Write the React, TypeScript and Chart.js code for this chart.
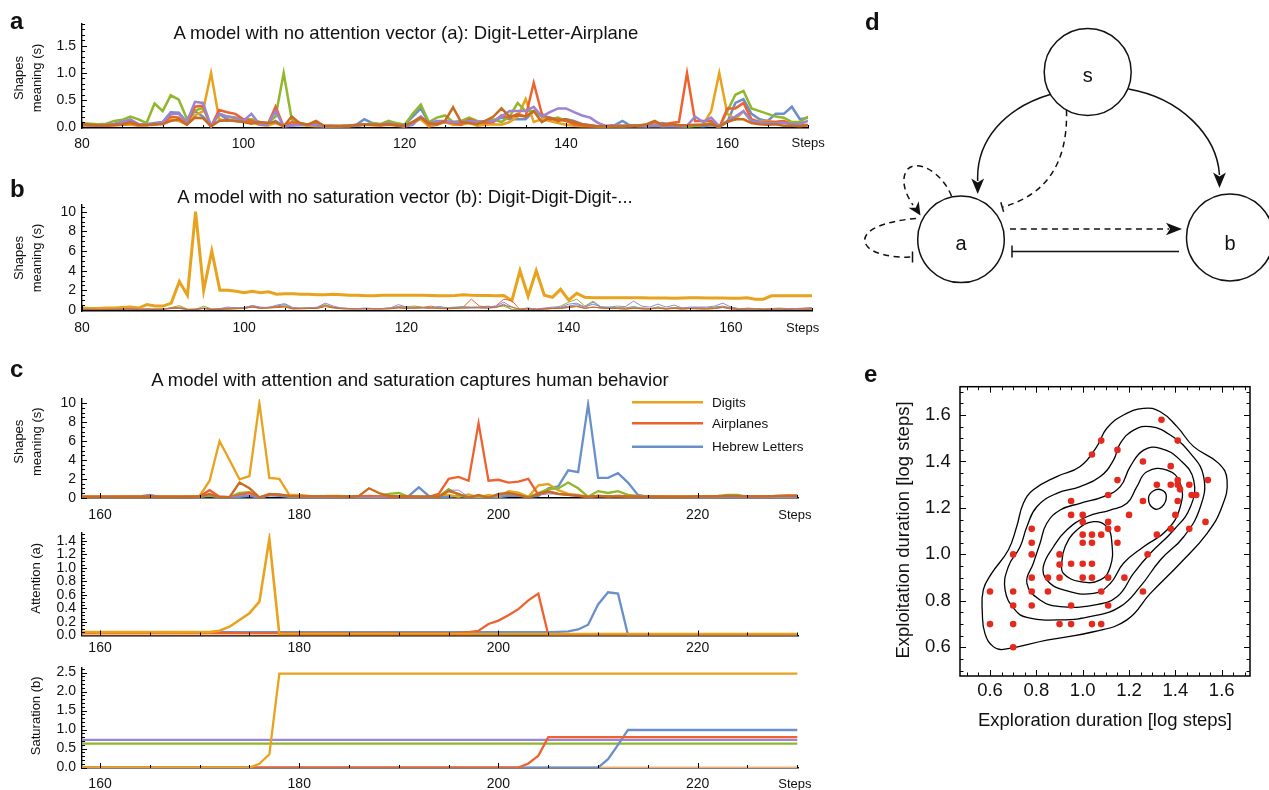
import React, { useEffect, useRef } from 'react';
import { Chart, registerables } from 'chart.js';

Chart.register(...registerables);

const FONT = '"Liberation Sans", Arial, Helvetica, sans-serif';
const BLUE = '#6A8FCB';
const ORANGE = '#E8A21E';
const GREEN = '#90B72D';
const RED = '#EE6230';
const PURPLE = '#9B84D3';
const BROWN = '#C76C20';
const DOT = '#E4291F';

// ---------------- Panel a : steps 80..170 ----------------
const A_START = 80;
const A_BLUE = [
  0.05, 0.04, 0.03, 0.04, 0.06, 0.10, 0.12, 0.05, 0.06, 0.08,
  0.10, 0.28, 0.27, 0.10, 0.30, 0.20, 0.02, 0.25, 0.15, 0.12,
  0.10, 0.15, 0.08, 0.05, 0.12, 0.02, 0.05, 0.04, 0.06, 0.05,
  0.03, 0.02, 0.03, 0.02, 0.05, 0.15, 0.08, 0.06, 0.10, 0.05,
  0.05, 0.20, 0.35, 0.08, 0.10, 0.10, 0.08, 0.06, 0.10, 0.08,
  0.12, 0.12, 0.18, 0.15, 0.15, 0.15, 0.30, 0.22, 0.18, 0.15,
  0.15, 0.12, 0.06, 0.04, 0.02, 0.02, 0.04, 0.12, 0.03, 0.03,
  0.03, 0.05, 0.08, 0.05, 0.03, 0.02, 0.03, 0.02, 0.04, 0.02,
  0.10, 0.45, 0.52, 0.25, 0.15, 0.12, 0.25, 0.25, 0.38, 0.15, 0.18,
];
const A_ORANGE = [
  0.03, 0.03, 0.04, 0.03, 0.04, 0.05, 0.05, 0.03, 0.04, 0.05,
  0.08, 0.15, 0.12, 0.05, 0.22, 0.30, 1.00, 0.15, 0.12, 0.15,
  0.12, 0.10, 0.05, 0.03, 0.08, 0.02, 0.10, 0.05, 0.03, 0.02,
  0.02, 0.02, 0.03, 0.02, 0.03, 0.05, 0.04, 0.03, 0.05, 0.03,
  0.02, 0.10, 0.15, 0.02, 0.05, 0.10, 0.05, 0.05, 0.08, 0.03,
  0.05, 0.06, 0.05, 0.10, 0.20, 0.52, 0.10, 0.15, 0.12, 0.08,
  0.05, 0.03, 0.02, 0.02, 0.02, 0.02, 0.02, 0.02, 0.03, 0.02,
  0.02, 0.03, 0.02, 0.03, 0.02, 0.02, 0.03, 0.05, 0.30, 1.00,
  0.25, 0.15, 0.30, 0.10, 0.12, 0.12, 0.10, 0.12, 0.05, 0.03, 0.05,
];
const A_GREEN = [
  0.08, 0.07, 0.06, 0.07, 0.12, 0.14, 0.20, 0.15, 0.08, 0.44,
  0.30, 0.59, 0.51, 0.16, 0.31, 0.36, 0.02, 0.25, 0.20, 0.18,
  0.15, 0.15, 0.10, 0.08, 0.20, 1.00, 0.15, 0.08, 0.05, 0.07,
  0.02, 0.02, 0.02, 0.03, 0.04, 0.05, 0.08, 0.06, 0.12, 0.08,
  0.05, 0.25, 0.42, 0.10, 0.18, 0.22, 0.10, 0.12, 0.18, 0.12,
  0.10, 0.15, 0.10, 0.20, 0.45, 0.30, 0.30, 0.20, 0.15, 0.18,
  0.12, 0.08, 0.05, 0.03, 0.02, 0.02, 0.03, 0.02, 0.03, 0.04,
  0.03, 0.04, 0.03, 0.03, 0.03, 0.02, 0.03, 0.05, 0.08, 0.00,
  0.30, 0.60, 0.67, 0.35, 0.30, 0.25, 0.20, 0.18, 0.10, 0.10, 0.20,
];
const A_RED = [
  0.06, 0.04, 0.03, 0.03, 0.04, 0.05, 0.08, 0.04, 0.05, 0.05,
  0.08, 0.20, 0.18, 0.06, 0.38, 0.40, 0.02, 0.32, 0.28, 0.25,
  0.15, 0.12, 0.06, 0.05, 0.38, 0.02, 0.10, 0.06, 0.05, 0.10,
  0.02, 0.02, 0.02, 0.03, 0.04, 0.05, 0.05, 0.04, 0.06, 0.05,
  0.03, 0.10, 0.20, 0.05, 0.08, 0.10, 0.08, 0.05, 0.15, 0.10,
  0.08, 0.10, 0.22, 0.18, 0.25, 0.20, 0.82, 0.25, 0.15, 0.15,
  0.12, 0.06, 0.04, 0.02, 0.02, 0.02, 0.03, 0.03, 0.03, 0.04,
  0.05, 0.10, 0.05, 0.08, 0.10, 1.00, 0.12, 0.12, 0.12, 0.00,
  0.35, 0.35, 0.45, 0.15, 0.10, 0.10, 0.10, 0.12, 0.05, 0.05, 0.04,
];
const A_PURPLE = [
  0.05, 0.04, 0.04, 0.05, 0.07, 0.10, 0.15, 0.06, 0.05, 0.07,
  0.10, 0.25, 0.25, 0.10, 0.47, 0.45, 0.02, 0.25, 0.20, 0.18,
  0.12, 0.25, 0.06, 0.05, 0.30, 0.02, 0.03, 0.05, 0.06, 0.04,
  0.02, 0.03, 0.02, 0.03, 0.03, 0.06, 0.05, 0.05, 0.08, 0.04,
  0.02, 0.05, 0.20, 0.08, 0.12, 0.12, 0.10, 0.10, 0.12, 0.10,
  0.12, 0.12, 0.20, 0.30, 0.30, 0.30, 0.38, 0.20, 0.28, 0.35,
  0.35, 0.28, 0.22, 0.18, 0.08, 0.03, 0.04, 0.03, 0.02, 0.03,
  0.02, 0.03, 0.02, 0.02, 0.02, 0.03, 0.20, 0.10, 0.18, 0.02,
  0.12, 0.20, 0.30, 0.12, 0.10, 0.08, 0.08, 0.08, 0.06, 0.07, 0.12,
];
const A_BROWN = [
  0.06, 0.05, 0.04, 0.04, 0.05, 0.06, 0.10, 0.05, 0.04, 0.06,
  0.06, 0.12, 0.15, 0.05, 0.18, 0.17, 0.02, 0.12, 0.13, 0.12,
  0.10, 0.07, 0.10, 0.08, 0.10, 0.02, 0.20, 0.08, 0.05, 0.12,
  0.03, 0.03, 0.02, 0.03, 0.05, 0.06, 0.05, 0.05, 0.06, 0.04,
  0.03, 0.10, 0.18, 0.08, 0.05, 0.12, 0.37, 0.10, 0.08, 0.06,
  0.12, 0.20, 0.35, 0.20, 0.22, 0.20, 0.30, 0.10, 0.18, 0.12,
  0.15, 0.10, 0.06, 0.04, 0.02, 0.02, 0.02, 0.02, 0.03, 0.03,
  0.06, 0.12, 0.04, 0.06, 0.04, 0.04, 0.05, 0.05, 0.06, 0.01,
  0.10, 0.15, 0.15, 0.08, 0.06, 0.05, 0.06, 0.03, 0.03, 0.02, 0.04,
];

// ---------------- Panel b : steps 80..170 ----------------
const B_START = 80;
const B_ORANGE = [
  0.20, 0.15, 0.15, 0.20, 0.20, 0.25, 0.30, 0.20, 0.55, 0.40,
  0.40, 0.70, 2.90, 1.50, 10.0, 2.00, 6.00, 2.00, 2.00, 1.90,
  1.75, 1.90, 1.75, 1.85, 1.60, 1.65, 1.65, 1.60, 1.60, 1.55,
  1.55, 1.60, 1.55, 1.50, 1.50, 1.45, 1.45, 1.50, 1.50, 1.50,
  1.50, 1.50, 1.50, 1.48, 1.45, 1.45, 1.48, 1.55, 1.50, 1.48,
  1.48, 1.45, 1.48, 0.95, 4.00, 1.40, 4.00, 1.50, 1.30, 2.10,
  1.00, 1.70, 1.30, 1.25, 1.25, 1.25, 1.25, 1.25, 1.25, 1.25,
  1.22, 1.22, 1.22, 1.20, 1.22, 1.25, 1.25, 1.22, 1.22, 1.22,
  1.20, 1.20, 1.25, 1.10, 1.10, 1.45, 1.45, 1.45, 1.45, 1.45, 1.45,
];
const B_BLUE = [
  0.10, 0.08, 0.06, 0.06, 0.08, 0.10, 0.12, 0.08, 0.10, 0.08,
  0.10, 0.20, 0.15, 0.05, 0.10, 0.15, 0.05, 0.10, 0.20, 0.25,
  0.20, 0.30, 0.20, 0.25, 0.40, 0.55, 0.20, 0.15, 0.20, 0.25,
  0.50, 0.30, 0.20, 0.15, 0.15, 0.20, 0.15, 0.15, 0.20, 0.35,
  0.25, 0.20, 0.25, 0.20, 0.35, 0.20, 0.25, 0.20, 0.20, 0.25,
  0.20, 0.30, 0.60, 0.05, 0.10, 0.20, 0.10, 0.15, 0.20, 0.25,
  0.40, 0.55, 0.30, 0.60, 0.30, 0.25, 0.25, 0.20, 0.35, 0.20,
  0.15, 0.30, 0.15, 0.25, 0.20, 0.20, 0.25, 0.20, 0.30, 0.40,
  0.20, 0.10, 0.15, 0.15, 0.10, 0.10, 0.15, 0.10, 0.15, 0.15, 0.20,
];
const B_GREEN = [
  0.08, 0.06, 0.05, 0.06, 0.08, 0.10, 0.08, 0.06, 0.08, 0.10,
  0.10, 0.25, 0.45, 0.10, 0.05, 0.40, 0.10, 0.10, 0.15, 0.20,
  0.25, 0.45, 0.25, 0.20, 0.30, 0.45, 0.20, 0.20, 0.25, 0.25,
  0.55, 0.25, 0.20, 0.15, 0.15, 0.15, 0.15, 0.15, 0.20, 0.30,
  0.35, 0.40, 0.30, 0.25, 0.30, 0.25, 0.30, 0.35, 0.25, 0.30,
  0.40, 0.30, 0.40, 0.05, 0.10, 0.20, 0.05, 0.10, 0.20, 0.40,
  0.80, 1.10, 0.40, 0.90, 0.30, 0.20, 0.25, 0.20, 0.25, 0.20,
  0.15, 0.30, 0.15, 0.25, 0.20, 0.20, 0.25, 0.20, 0.25, 0.25,
  0.30, 0.15, 0.15, 0.15, 0.10, 0.15, 0.20, 0.15, 0.15, 0.10, 0.15,
];
const B_RED = [
  0.05, 0.05, 0.04, 0.05, 0.05, 0.06, 0.08, 0.05, 0.06, 0.06,
  0.08, 0.20, 0.30, 0.05, 0.05, 0.15, 0.05, 0.08, 0.10, 0.15,
  0.20, 0.40, 0.20, 0.30, 0.35, 0.35, 0.15, 0.15, 0.20, 0.20,
  0.45, 0.25, 0.15, 0.12, 0.12, 0.15, 0.12, 0.12, 0.15, 0.25,
  0.20, 0.30, 0.25, 0.40, 0.20, 0.15, 0.20, 0.30, 1.10, 0.40,
  0.30, 0.40, 1.10, 0.95, 0.05, 0.15, 0.05, 0.10, 0.15, 0.20,
  0.30, 0.40, 0.20, 0.30, 0.20, 0.15, 0.15, 0.10, 0.15, 0.15,
  0.10, 0.20, 0.10, 0.20, 0.10, 0.15, 0.15, 0.10, 0.15, 0.30,
  0.15, 0.05, 0.10, 0.10, 0.05, 0.10, 0.10, 0.08, 0.10, 0.10, 0.10,
];
const B_PURPLE = [
  0.10, 0.08, 0.08, 0.08, 0.10, 0.12, 0.15, 0.10, 0.12, 0.10,
  0.10, 0.15, 0.20, 0.05, 0.10, 0.20, 0.10, 0.15, 0.30, 0.20,
  0.25, 0.45, 0.30, 0.25, 0.50, 0.65, 0.25, 0.20, 0.20, 0.30,
  0.70, 0.40, 0.20, 0.15, 0.15, 0.15, 0.15, 0.15, 0.20, 0.55,
  0.30, 0.20, 0.25, 0.20, 0.30, 0.20, 0.25, 0.30, 0.30, 0.30,
  0.30, 0.40, 0.80, 0.30, 0.05, 0.15, 0.10, 0.20, 0.30, 0.30,
  0.60, 0.70, 0.30, 0.80, 0.30, 0.30, 0.40, 0.35, 0.90, 0.40,
  0.30, 0.60, 0.30, 0.50, 0.20, 0.30, 0.30, 0.30, 0.40, 0.70,
  0.30, 0.10, 0.20, 0.15, 0.10, 0.15, 0.10, 0.15, 0.15, 0.20, 0.25,
];
const B_BROWN = [
  0.06, 0.05, 0.05, 0.05, 0.06, 0.08, 0.08, 0.06, 0.06, 0.06,
  0.08, 0.15, 0.20, 0.05, 0.05, 0.20, 0.05, 0.08, 0.10, 0.12,
  0.15, 0.30, 0.15, 0.20, 0.25, 0.30, 0.10, 0.12, 0.15, 0.15,
  0.35, 0.20, 0.12, 0.10, 0.10, 0.10, 0.10, 0.10, 0.12, 0.20,
  0.15, 0.20, 0.20, 0.20, 0.15, 0.12, 0.15, 0.20, 0.25, 0.20,
  0.20, 0.25, 0.50, 0.30, 0.05, 0.10, 0.05, 0.10, 0.15, 0.15,
  0.25, 0.35, 0.15, 0.30, 0.20, 0.15, 0.15, 0.10, 0.20, 0.10,
  0.10, 0.20, 0.10, 0.15, 0.10, 0.15, 0.10, 0.10, 0.15, 0.25,
  0.10, 0.05, 0.08, 0.08, 0.05, 0.08, 0.08, 0.06, 0.08, 0.08, 0.10,
];

// ---------------- Panel c (top) : steps 158..230 ----------------
const C_START = 158;
const C_BLUE = [
  0.05, 0.05, 0.05, 0.08, 0.10, 0.10, 0.15, 0.30, 0.10, 0.08,
  0.08, 0.10, 0.10, 0.30, 0.10, 0.05, 0.10, 0.20, 0.00, 0.30,
  0.20, 0.10, 0.08, 0.05, 0.05, 0.05, 0.08, 0.05, 0.05, 0.05,
  0.10, 0.10, 0.15, 0.20, 1.10, 0.20, 0.10, 0.10, 0.20, 0.05,
  0.10, 0.10, 0.05, 0.20, 0.20, 0.10, 0.20, 1.00, 1.20, 2.90,
  2.70, 9.90, 2.10, 2.10, 2.60, 1.60, 0.30, 0.10, 0.10, 0.05,
  0.05, 0.05, 0.05, 0.05, 0.10, 0.10, 0.10, 0.10, 0.10, 0.10,
  0.10, 0.10, 0.10,
];
const C_ORANGE = [
  0.10, 0.10, 0.10, 0.10, 0.10, 0.10, 0.10, 0.10, 0.10, 0.10,
  0.10, 0.15, 0.20, 1.80, 6.00, 4.00, 1.95, 2.30, 10.0, 2.10,
  2.00, 0.30, 0.30, 0.20, 0.15, 0.20, 0.20, 0.10, 0.15, 0.10,
  0.10, 0.15, 0.10, 0.10, 0.00, 0.10, 0.30, 0.30, 0.10, 0.35,
  0.05, 0.30, 0.10, 0.70, 0.55, 0.10, 1.30, 1.45, 0.80, 0.40,
  0.30, 0.10, 0.20, 0.15, 0.20, 0.15, 0.15, 0.15, 0.10, 0.10,
  0.10, 0.10, 0.10, 0.15, 0.15, 0.20, 0.20, 0.10, 0.10, 0.15,
  0.10, 0.15, 0.15,
];
const C_GREEN = [
  0.05, 0.05, 0.05, 0.05, 0.05, 0.05, 0.05, 0.05, 0.05, 0.05,
  0.05, 0.05, 0.10, 0.20, 0.05, 0.05, 0.50, 0.60, 0.00, 0.30,
  0.30, 0.15, 0.10, 0.10, 0.10, 0.10, 0.10, 0.10, 0.10, 0.10,
  0.20, 0.40, 0.50, 0.10, 0.10, 0.00, 0.10, 0.90, 0.30, 0.10,
  0.20, 0.05, 0.30, 0.40, 0.30, 0.05, 0.50, 0.90, 1.00, 1.60,
  1.00, 0.10, 0.70, 0.50, 0.70, 0.30, 0.20, 0.15, 0.10, 0.10,
  0.10, 0.10, 0.10, 0.15, 0.20, 0.30, 0.30, 0.10, 0.10, 0.10,
  0.15, 0.15, 0.15,
];
const C_RED = [
  0.10, 0.10, 0.10, 0.10, 0.10, 0.10, 0.10, 0.15, 0.10, 0.10,
  0.10, 0.10, 0.15, 0.80, 0.10, 0.05, 0.30, 0.50, 0.00, 0.30,
  0.30, 0.20, 0.15, 0.15, 0.15, 0.15, 0.15, 0.15, 0.15, 0.20,
  0.15, 0.10, 0.10, 0.10, 0.05, 0.10, 0.40, 2.00, 2.20, 1.80,
  7.90, 1.80, 1.90, 1.60, 1.70, 2.00, 0.30, 0.60, 0.40, 0.30,
  0.20, 0.10, 0.20, 0.15, 0.20, 0.15, 0.15, 0.10, 0.10, 0.10,
  0.10, 0.10, 0.10, 0.15, 0.15, 0.20, 0.15, 0.15, 0.10, 0.15,
  0.20, 0.25, 0.25,
];
const C_PURPLE = [
  0.05, 0.05, 0.05, 0.05, 0.05, 0.05, 0.05, 0.10, 0.05, 0.05,
  0.05, 0.05, 0.10, 0.20, 0.05, 0.05, 0.20, 0.30, 0.00, 0.20,
  0.20, 0.10, 0.05, 0.05, 0.05, 0.05, 0.05, 0.05, 0.05, 0.05,
  0.10, 0.10, 0.15, 0.10, 0.10, 0.05, 0.10, 0.80, 0.80, 0.10,
  0.20, 0.05, 0.20, 0.30, 0.20, 0.05, 0.30, 0.40, 0.40, 0.30,
  0.30, 0.05, 0.20, 0.20, 0.20, 0.10, 0.10, 0.05, 0.05, 0.05,
  0.05, 0.05, 0.05, 0.05, 0.05, 0.10, 0.10, 0.05, 0.05, 0.05,
  0.05, 0.05, 0.05,
];
const C_BROWN = [
  0.10, 0.10, 0.10, 0.10, 0.10, 0.10, 0.10, 0.10, 0.10, 0.10,
  0.10, 0.10, 0.15, 0.40, 0.05, 0.05, 1.60, 1.00, 0.05, 0.40,
  0.35, 0.20, 0.15, 0.15, 0.15, 0.15, 0.15, 0.10, 0.20, 1.00,
  0.50, 0.20, 0.15, 0.15, 0.15, 0.15, 0.10, 0.70, 0.40, 0.00,
  0.30, 0.00, 0.40, 0.50, 0.30, 0.00, 0.40, 0.70, 0.40, 0.30,
  0.20, 0.10, 0.20, 0.15, 0.15, 0.10, 0.10, 0.10, 0.10, 0.10,
  0.10, 0.10, 0.15, 0.15, 0.15, 0.20, 0.20, 0.15, 0.15, 0.15,
  0.20, 0.20, 0.20,
];

// ---------------- Panel c (attention) ----------------
const ATT_ORANGE_STEPS = [158, 171, 172, 173, 174, 175, 176, 177, 178, 230];
const ATT_ORANGE = [0.05, 0.05, 0.07, 0.13, 0.23, 0.33, 0.50, 1.43, 0.02, 0.02];
const ATT_RED_STEPS = [158, 196, 197, 198, 199, 200, 201, 202, 203, 204, 205, 230];
const ATT_RED = [0.035, 0.04, 0.05, 0.07, 0.17, 0.22, 0.30, 0.39, 0.52, 0.62, 0.01, 0.01];
const ATT_BLUE_STEPS = [158, 205, 206, 207, 208, 209, 210, 211, 212, 213, 230];
const ATT_BLUE = [0.05, 0.05, 0.055, 0.06, 0.09, 0.16, 0.46, 0.64, 0.62, 0.01, 0.01];
const ATT_BROWN_STEPS = [158, 230];
const ATT_BROWN = [0.0, 0.0];

// ---------------- Panel c (saturation) ----------------
const SAT_ORANGE_STEPS = [158, 175, 176, 177, 178, 230];
const SAT_ORANGE = [0, 0, 0.10, 0.35, 2.47, 2.47];
const SAT_PURPLE_STEPS = [158, 230];
const SAT_PURPLE = [0.73, 0.73];
const SAT_GREEN_STEPS = [158, 230];
const SAT_GREEN = [0.63, 0.63];
const SAT_RED_STEPS = [158, 202, 203, 204, 205, 230];
const SAT_RED = [0, 0, 0.11, 0.31, 0.80, 0.80];
const SAT_BLUE_STEPS = [158, 210, 211, 212, 213, 230];
const SAT_BLUE = [0, 0, 0.22, 0.60, 0.99, 0.99];
const SAT_BROWN_STEPS = [158, 230];
const SAT_BROWN = [0, 0];

// ---------------- Panel e ----------------
const E_X = [0.6, 0.6, 0.7, 0.7, 0.7, 0.7, 0.7, 0.78, 0.78, 0.78, 0.78, 0.78, 0.78, 0.85, 0.85, 0.9, 0.9, 0.9, 0.9,
  0.95, 0.95, 0.95, 0.95, 0.95, 1.0, 1.0, 1.0, 1.0, 1.0, 1.0, 1.04, 1.04, 1.04, 1.04, 1.04, 1.04, 1.08, 1.08, 1.08, 1.08,
  1.11, 1.11, 1.11, 1.11, 1.11, 1.15, 1.15, 1.15, 1.15, 1.18, 1.2, 1.26, 1.26, 1.26, 1.28, 1.32, 1.32, 1.34, 1.38, 1.38,
  1.38, 1.40, 1.41, 1.41, 1.41, 1.41, 1.42, 1.46, 1.46, 1.47, 1.49, 1.54, 1.53];
const E_Y = [0.84, 0.70, 1.0, 0.84, 0.78, 0.70, 0.60, 1.11, 1.05, 1.0, 0.90, 0.84, 0.78, 0.90, 0.84, 1.0, 0.956, 0.90, 0.70,
  1.23, 1.17, 0.96, 0.78, 0.70, 1.17, 1.14, 1.085, 1.05, 0.96, 0.90, 1.43, 1.085, 1.05, 0.96, 0.90, 0.70, 1.49, 1.085, 0.84, 0.70,
  1.14, 1.256, 1.11, 0.90, 0.78, 1.45, 1.32, 1.11, 1.05, 0.90, 1.17, 1.40, 1.23, 0.84, 1.0, 1.30, 1.085, 1.58, 1.38, 1.30,
  1.11, 1.17, 1.49, 1.32, 1.30, 1.23, 1.28, 1.30, 1.11, 1.256, 1.256, 1.32, 1.14];

const C1_X = [0.614, 0.658, 0.845, 1.047, 1.191, 1.292, 1.421, 1.537, 1.601, 1.623, 1.587, 1.479, 1.407, 1.335, 1.263, 1.176, 1.104, 1.061, 0.989, 0.888, 0.787, 0.744, 0.715, 0.679, 0.607, 0.571, 0.567, 0.578];
const C1_Y = [0.603, 0.591, 0.631, 0.667, 0.718, 0.832, 0.962, 1.091, 1.205, 1.320, 1.392, 1.464, 1.550, 1.614, 1.629, 1.600, 1.543, 1.464, 1.378, 1.335, 1.278, 1.220, 1.119, 1.019, 0.918, 0.847, 0.746, 0.660];
const C2_X = [0.708, 0.759, 0.903, 1.047, 1.162, 1.248, 1.335, 1.436, 1.508, 1.522, 1.465, 1.378, 1.292, 1.220, 1.162, 1.133, 1.076, 0.989, 0.888, 0.802, 0.759, 0.730, 0.679, 0.665];
const C2_Y = [0.761, 0.729, 0.718, 0.735, 0.775, 0.861, 0.976, 1.076, 1.205, 1.335, 1.435, 1.514, 1.550, 1.535, 1.478, 1.406, 1.335, 1.292, 1.263, 1.205, 1.119, 1.033, 0.947, 0.847];
const C3_X = [0.816, 0.903, 1.047, 1.148, 1.220, 1.292, 1.393, 1.465, 1.479, 1.421, 1.335, 1.263, 1.205, 1.162, 1.090, 0.989, 0.903, 0.845, 0.816, 0.787, 0.759];
const C3_Y = [0.804, 0.775, 0.782, 0.818, 0.919, 1.005, 1.105, 1.205, 1.320, 1.406, 1.457, 1.449, 1.378, 1.292, 1.249, 1.220, 1.191, 1.134, 1.048, 0.962, 0.876];
const C4_X = [0.845, 0.917, 1.047, 1.119, 1.176, 1.263, 1.364, 1.421, 1.421, 1.364, 1.277, 1.234, 1.191, 1.119, 1.018, 0.931, 0.874, 0.830];
const C4_Y = [0.890, 0.847, 0.832, 0.875, 0.962, 1.033, 1.105, 1.205, 1.306, 1.363, 1.356, 1.292, 1.220, 1.191, 1.162, 1.105, 1.033, 0.947];
const C5_X = [0.917, 0.989, 1.076, 1.119, 1.126, 1.104, 1.047, 0.975, 0.924, 0.910];
const C5_Y = [0.918, 0.883, 0.890, 0.947, 1.048, 1.119, 1.141, 1.105, 1.033, 0.962];
const C6_X = [1.284, 1.306, 1.342, 1.361, 1.342, 1.306];
const C6_Y = [1.241, 1.198, 1.205, 1.249, 1.277, 1.274];

// ---------------- Tick labels ----------------
const A_X_TICKS = [80, 100, 120, 140, 160];
const A_Y_TICKS = [0, 0.5, 1.0, 1.5];
const B_Y_TICKS = [0, 2, 4, 6, 8, 10];
const C_X_TICKS = [160, 180, 200, 220];
const C_Y_TICKS = [0, 2, 4, 6, 8, 10];
const ATT_Y_TICKS = [0, 0.2, 0.4, 0.6, 0.8, 1.0, 1.2, 1.4];
const SAT_Y_TICKS = [0, 0.5, 1.0, 1.5, 2.0, 2.5];
const E_TICKS = [0.6, 0.8, 1.0, 1.2, 1.4, 1.6];

// ---------------- helpers ----------------
function rng(a: number, b: number, step: number) {
  const out: number[] = [];
  const n = Math.round((b - a) / step);
  for (let i = 0; i <= n; i++) out.push(+(a + i * step).toFixed(4));
  return out;
}
const seq = (start: number, vals: number[]) => vals.map((y, i) => ({ x: start + i, y }));
const pairs = (xs: number[], ys: number[]) => xs.map((x, i) => ({ x, y: ys[i] }));

const innerTicks = {
  id: 'innerTicks',
  afterDatasetsUpdate(chart: any) {
    chart.data.datasets.forEach((ds: any, i: number) => {
      if (ds.closed) {
        const m = chart.getDatasetMeta(i);
        if (m && m.dataset) { m.dataset._loop = true; m.dataset._fullLoop = true; }
      }
    });
  },
  afterDraw(chart: any, _a: any, o: any) {
    if (!o || !o.x) return;
    const { ctx, chartArea: ca, scales } = chart;
    ctx.save();
    ctx.strokeStyle = '#000';
    ctx.lineWidth = 1;
    const line = (x1: number, y1: number, x2: number, y2: number) => {
      ctx.beginPath(); ctx.moveTo(x1, y1); ctx.lineTo(x2, y2); ctx.stroke();
    };
    const xt = (vals: number[], len: number) => vals.forEach((v) => {
      const p = Math.round(scales.x.getPixelForValue(v)) + 0.5;
      if (p < ca.left - 0.6 || p > ca.right + 0.6) return;
      line(p, ca.bottom, p, ca.bottom - len);
      if (o.frame) line(p, ca.top, p, ca.top + len);
    });
    const yt = (vals: number[], len: number) => vals.forEach((v) => {
      const p = Math.round(scales.y.getPixelForValue(v)) + 0.5;
      if (p < ca.top - 0.6 || p > ca.bottom + 0.6) return;
      line(ca.left, p, ca.left + len, p);
      if (o.frame) line(ca.right, p, ca.right - len, p);
    });
    xt(o.x.minor, o.minorLen); xt(o.x.major, o.majorLen);
    yt(o.y.minor, o.minorLen); yt(o.y.major, o.majorLen);
    if (o.frame) {
      ctx.lineWidth = 1.5;
      ctx.strokeRect(ca.left, ca.top, ca.right - ca.left, ca.bottom - ca.top);
    }
    ctx.restore();
  },
};
Chart.register(innerTicks as any);

function axis(o: { min: number; max: number; major: number[]; dec: number; size: number; pad: number; fitW?: number; fitH?: number; border: boolean }) {
  return {
    type: 'linear',
    min: o.min,
    max: o.max,
    afterBuildTicks: (s: any) => { s.ticks = o.major.map((v) => ({ value: v })); },
    afterFit: (s: any) => {
      if (o.fitW != null) s.width = o.fitW;
      if (o.fitH != null) s.height = o.fitH;
    },
    grid: { display: false, drawTicks: false },
    border: { display: o.border, color: '#000', width: 1.4 },
    ticks: {
      autoSkip: false, maxRotation: 0, minRotation: 0, padding: o.pad, color: '#111',
      font: { family: FONT, size: o.size },
      callback: (v: any) => Number(v).toFixed(o.dec),
    },
  };
}

function ds(data: any[], color: string, width: number, order: number) {
  return { data, borderColor: color, backgroundColor: color, borderWidth: width, pointRadius: 0, fill: false, tension: 0, order };
}

function lineConfig(p: any) {
  return {
    type: 'line',
    data: { datasets: p.datasets },
    options: {
      animation: false, responsive: false, devicePixelRatio: 1, events: [],
      layout: { padding: { left: 0, top: p.padTop, right: p.padRight, bottom: 0 } },
      plugins: {
        legend: { display: false }, tooltip: { enabled: false },
        innerTicks: { x: p.xt, y: p.yt, majorLen: 5, minorLen: 3, frame: false },
      },
      scales: {
        x: axis({ min: p.xMin, max: p.xMax, major: p.xMajor, dec: 0, size: 14, pad: p.xPad, fitH: p.xH, border: true }),
        y: axis({ min: p.yMin, max: p.yMax, major: p.yMajor, dec: p.yDec, size: 14, pad: 6, fitW: 82, border: true }),
      },
    },
  };
}

const six = (start: number, b: number[], o: number[], g: number[], r: number[], pu: number[], br: number[], w: number, thin?: number, thinPurple?: boolean) => [
  ds(seq(start, b), BLUE, thin ?? w, 5),
  ds(seq(start, o), ORANGE, w, 4),
  ds(seq(start, g), GREEN, thin ?? w, 3),
  ds(seq(start, r), RED, thin ?? w, 2),
  ds(seq(start, pu), PURPLE, thinPurple ? 1 : (thin ?? w), 1),
  ds(seq(start, br), BROWN, thin ?? w, 0),
];

const AX_T = { major: A_X_TICKS, minor: rng(80, 170, 5) };
const CX_T = { major: C_X_TICKS, minor: rng(160, 230, 5) };

const configs: Record<string, () => any> = {
  a: () => lineConfig({
    datasets: six(A_START, A_BLUE, A_ORANGE, A_GREEN, A_RED, A_PURPLE, A_BROWN, 2.5),
    padTop: 24, padRight: 22, xH: 24, xPad: 7.5,
    xMin: 80, xMax: 170, xMajor: A_X_TICKS, yMin: -0.01, yMax: 1.9, yMajor: A_Y_TICKS, yDec: 1,
    xt: AX_T, yt: { major: A_Y_TICKS, minor: rng(0, 1.9, 0.1) },
  }),
  b: () => lineConfig({
    datasets: six(B_START, B_BLUE, B_ORANGE, B_GREEN, B_RED, B_PURPLE, B_BROWN, 3, 1),
    padTop: 25, padRight: 18, xH: 24, xPad: 8.5,
    xMin: 80, xMax: 170, xMajor: A_X_TICKS, yMin: -0.1, yMax: 10.68, yMajor: B_Y_TICKS, yDec: 0,
    xt: AX_T, yt: { major: B_Y_TICKS, minor: rng(0, 10.5, 0.5) },
  }),
  c1: () => lineConfig({
    datasets: six(C_START, C_BLUE, C_ORANGE, C_GREEN, C_RED, C_PURPLE, C_BROWN, 2.3, undefined, true),
    padTop: 19, padRight: 32, xH: 24, xPad: 8.5,
    xMin: 158.19, xMax: 230.07, xMajor: C_X_TICKS, yMin: -0.03, yMax: 10.46, yMajor: C_Y_TICKS, yDec: 0,
    xt: CX_T, yt: { major: C_Y_TICKS, minor: rng(0, 10, 0.5) },
  }),
  c2: () => lineConfig({
    datasets: [
      ds(pairs(ATT_BLUE_STEPS, ATT_BLUE), BLUE, 2.3, 3),
      ds(pairs(ATT_RED_STEPS, ATT_RED), RED, 2.3, 2),
      ds(pairs(ATT_ORANGE_STEPS, ATT_ORANGE), ORANGE, 2.6, 1),
      ds(pairs(ATT_BROWN_STEPS, ATT_BROWN), BROWN, 1.5, 0),
    ],
    padTop: 18, padRight: 32, xH: 19.5, xPad: 4,
    xMin: 158.19, xMax: 230.07, xMajor: C_X_TICKS, yMin: 0, yMax: 1.517, yMajor: ATT_Y_TICKS, yDec: 1,
    xt: CX_T, yt: { major: ATT_Y_TICKS, minor: rng(0, 1.5, 0.05) },
  }),
  c3: () => lineConfig({
    datasets: [
      ds(pairs(SAT_BROWN_STEPS, SAT_BROWN), '#F0B27A', 2, 5),
      ds(pairs(SAT_GREEN_STEPS, SAT_GREEN), GREEN, 2.3, 4),
      ds(pairs(SAT_PURPLE_STEPS, SAT_PURPLE), PURPLE, 2.3, 3),
      ds(pairs(SAT_BLUE_STEPS, SAT_BLUE), BLUE, 2.3, 2),
      ds(pairs(SAT_RED_STEPS, SAT_RED), RED, 2.3, 1),
      ds(pairs(SAT_ORANGE_STEPS, SAT_ORANGE), ORANGE, 2.3, 0),
    ],
    padTop: 18, padRight: 32, xH: 22, xPad: 7.6,
    xMin: 158.19, xMax: 230.07, xMajor: C_X_TICKS, yMin: -0.01, yMax: 2.62, yMajor: SAT_Y_TICKS, yDec: 1,
    xt: CX_T, yt: { major: SAT_Y_TICKS, minor: rng(0, 2.6, 0.1) },
  }),
  e: () => {
    const contour = (xs: number[], ys: number[]) => ({
      type: 'line', closed: true, data: pairs(xs, ys), borderColor: '#000', borderWidth: 1.3,
      pointRadius: 0, fill: false, tension: 0.45, order: 1,
    });
    return {
      type: 'scatter',
      data: {
        datasets: [
          { data: pairs(E_X, E_Y), pointRadius: 3.3, pointBackgroundColor: DOT, backgroundColor: DOT, pointBorderWidth: 0, borderWidth: 0, order: 0 },
          contour(C1_X, C1_Y), contour(C2_X, C2_Y), contour(C3_X, C3_Y),
          contour(C4_X, C4_Y), contour(C5_X, C5_Y), contour(C6_X, C6_Y),
        ],
      },
      options: {
        animation: false, responsive: false, devicePixelRatio: 1, events: [],
        layout: { padding: { left: 0, top: 22.7, right: 19, bottom: 0 } },
        plugins: {
          legend: { display: false }, tooltip: { enabled: false },
          innerTicks: { x: { major: E_TICKS, minor: rng(0.5, 1.7, 0.05) }, y: { major: E_TICKS, minor: rng(0.5, 1.7, 0.05) }, majorLen: 6, minorLen: 3.5, frame: true },
        },
        scales: {
          x: axis({ min: 0.4705, max: 1.722, major: E_TICKS, dec: 1, size: 18.5, pad: 4.3, fitH: 34, border: false }),
          y: axis({ min: 0.4765, max: 1.722, major: E_TICKS, dec: 1, size: 18.5, pad: 9.3, fitW: 60, border: false }),
        },
      },
    };
  },
};

function ChartBox({ id, left, top, width, height }: { id: string; left: number; top: number; width: number; height: number }) {
  const ref = useRef<HTMLCanvasElement>(null);
  useEffect(() => {
    const c = new Chart(ref.current as HTMLCanvasElement, configs[id]());
    return () => c.destroy();
  }, [id]);
  return <canvas ref={ref} width={width} height={height} style={{ position: 'absolute', left, top, width, height }} />;
}

function VText({ x, y, size, children }: { x: number; y: number; size: number; children: React.ReactNode }) {
  return <text transform={`translate(${x} ${y}) rotate(-90)`} textAnchor="middle" fontSize={size}>{children}</text>;
}

function Overlay() {
  const dash = '6 4.5';
  return (
    <svg width={1269} height={790} style={{ position: 'absolute', left: 0, top: 0, pointerEvents: 'none' }} fontFamily={FONT} fill="#111">
      {/* panel letters */}
      <text x={10} y={28.5} fontSize={24} fontWeight="bold">a</text>
      <text x={10} y={196.7} fontSize={24} fontWeight="bold">b</text>
      <text x={10} y={377} fontSize={24} fontWeight="bold">c</text>
      <text x={865} y={30} fontSize={24} fontWeight="bold">d</text>
      <text x={864} y={381.7} fontSize={24} fontWeight="bold">e</text>

      {/* titles */}
      <text x={406} y={39.3} fontSize={18.5} textAnchor="middle">A model with no attention vector (a): Digit-Letter-Airplane</text>
      <text x={405} y={202.7} fontSize={18.5} textAnchor="middle">A model with no saturation vector (b): Digit-Digit-Digit-...</text>
      <text x={410} y={386} fontSize={18.5} textAnchor="middle">A model with attention and saturation captures human behavior</text>

      {/* y titles */}
      <VText x={22.5} y={78} size={13}>Shapes</VText>
      <VText x={41} y={78} size={13}>meaning (s)</VText>
      <VText x={22.5} y={258} size={13}>Shapes</VText>
      <VText x={41} y={258} size={13}>meaning (s)</VText>
      <VText x={22.5} y={441.7} size={13}>Shapes</VText>
      <VText x={41} y={441.7} size={13}>meaning (s)</VText>
      <VText x={40} y={578.3} size={13}>Attention (a)</VText>
      <VText x={40} y={715.8} size={13}>Saturation (b)</VText>

      {/* Steps labels */}
      <text x={791.5} y={146.7} fontSize={13}>Steps</text>
      <text x={786} y={331.7} fontSize={13}>Steps</text>
      <text x={778.3} y={519} fontSize={13}>Steps</text>
      <text x={778.3} y={788} fontSize={13}>Steps</text>

      {/* legend c */}
      <line x1={632} x2={703} y1={402.3} y2={402.3} stroke={ORANGE} strokeWidth={2.5} />
      <line x1={632} x2={703} y1={423.3} y2={423.3} stroke={RED} strokeWidth={2.5} />
      <line x1={632} x2={703} y1={446.7} y2={446.7} stroke={BLUE} strokeWidth={2.5} />
      <text x={712} y={406.5} fontSize={13.5}>Digits</text>
      <text x={712} y={427.5} fontSize={13.5}>Airplanes</text>
      <text x={712} y={451} fontSize={13.5}>Hebrew Letters</text>

      {/* panel e axis titles */}
      <text x={1105} y={726} fontSize={18.5} textAnchor="middle">Exploration duration [log steps]</text>
      <VText x={908.5} y={530} size={18.5}>Exploitation duration [log steps]</VText>

      {/* panel d diagram */}
      <g stroke="#111" strokeWidth={1.5} fill="none">
        <circle cx={1087.7} cy={72} r={43.5} />
        <circle cx={961} cy={239.3} r={43.3} />
        <circle cx={1230} cy={237.5} r={43.5} />
        <path d="M1050,94.5 C1005,108 976,140 977.7,181" />
        <path d="M1128.5,89 C1180,98 1217,135 1219.5,175" />
        <path d="M1066.5,110 C1068,165 1045,195 1003,207" strokeDasharray={dash} />
        <path d="M1000.8,202.3 L1003.6,211.8" />
        <path d="M951.5,196 C942,172 916,158 907,170 C900,180 906,195 913,205" strokeDasharray={dash} />
        <path d="M916,218.5 C885,221 862,230 865,242 C868,254 893,258 912,257" strokeDasharray={dash} />
        <path d="M912.5,251.5 L912.5,262.5" />
        <path d="M1010,229 L1169,229" strokeDasharray={dash} />
        <path d="M1179,251.5 L1012,251.5" />
        <path d="M1012,245.5 L1012,257.5" />
      </g>
      <g fill="#111" stroke="none">
        <path d="M977.7,194 L971.3,178.5 L977.7,182.5 L984.1,178.5 Z" />
        <path d="M1219.5,188 L1213.1,172.5 L1219.5,176.5 L1225.9,172.5 Z" />
        <path d="M920.5,215.5 L908.5,207.7 L915.7,207.8 L918.7,201.3 Z" />
        <path d="M1182,229 L1166,222.8 L1170,229 L1166,235.2 Z" />
      </g>
      <text x={1087.7} y={81.7} fontSize={20} textAnchor="middle">s</text>
      <text x={961} y={250} fontSize={20} textAnchor="middle">a</text>
      <text x={1230} y={250} fontSize={20} textAnchor="middle">b</text>
    </svg>
  );
}

export default function App() {
  return (
    <div style={{ position: 'absolute', left: 0, top: 0, width: 1269, height: 790, background: '#fff', overflow: 'hidden', fontFamily: FONT }}>
      <ChartBox id="a" left={0} top={0} width={830} height={152} />
      <ChartBox id="b" left={0} top={180} width={830} height={155} />
      <ChartBox id="c1" left={0} top={380} width={830} height={142} />
      <ChartBox id="c2" left={0} top={515} width={830} height={140} />
      <ChartBox id="c3" left={0} top={650} width={830} height={140} />
      <ChartBox id="e" left={900} top={364} width={369} height={346} />
      <Overlay />
    </div>
  );
}
